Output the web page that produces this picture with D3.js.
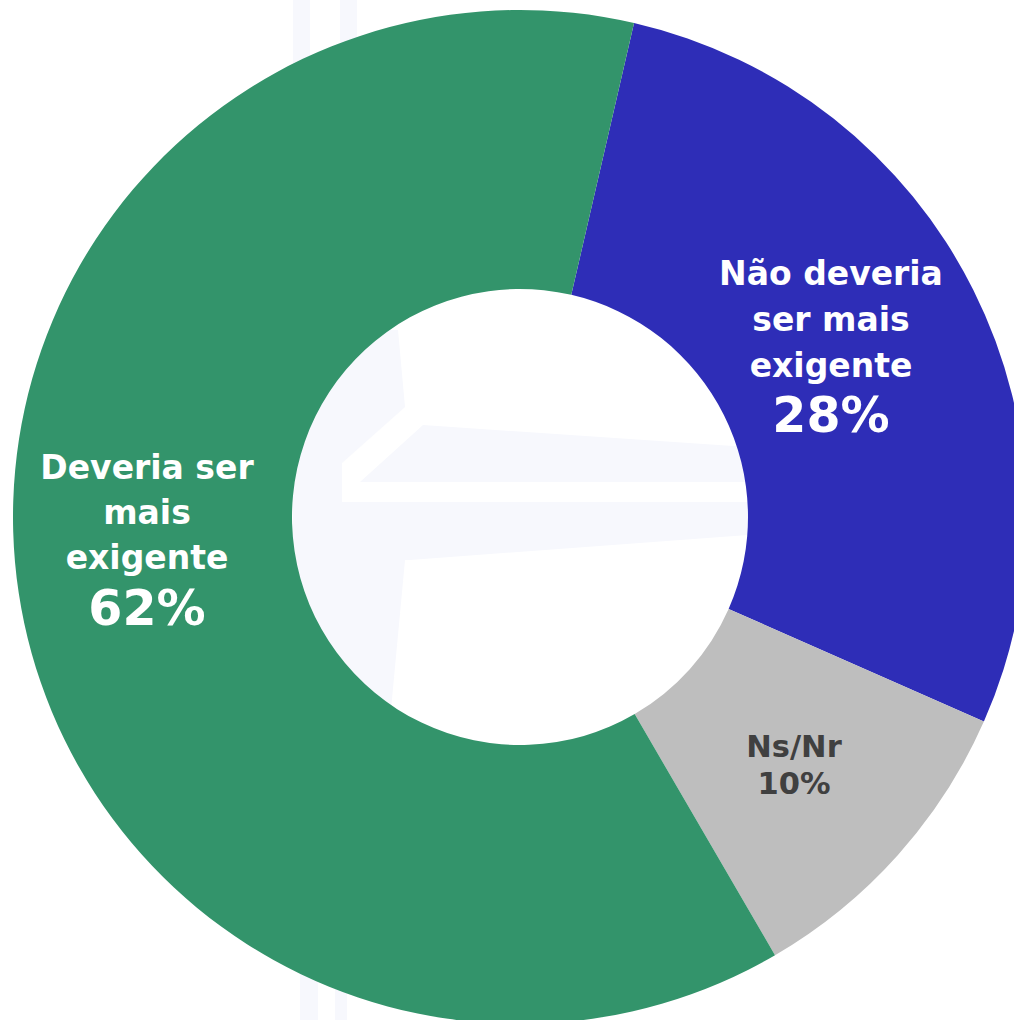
<!DOCTYPE html>
<html>
<head>
<meta charset="utf-8">
<script src="https://cdn.jsdelivr.net/npm/d3@7"></script>
<style>
  html, body { margin: 0; padding: 0; background: #fff; }
  svg { display: block; }
</style>
</head>
<body>
<svg id="chart"></svg>
<script>
// Data (percent)
const categories = ['Não deveria ser mais exigente', 'Ns/Nr', 'Deveria ser mais exigente'];
const values = [28, 10, 62];
const labelLines = [
  ['Não deveria', 'ser mais', 'exigente'],
  ['Ns/Nr'],
  ['Deveria ser', 'mais', 'exigente']
];
const pctLabels = ['28%', '10%', '62%'];

const COLORS = ['#2e2db7', '#bebebe', '#33946b'];
const TEXT_COLORS = ['#ffffff', '#404040', '#ffffff'];

const width = 1014, height = 1020;
const cx = 520, cy = 517;
const outerR = 507, innerR = 228;

const svg = d3.select('#chart')
  .attr('width', width)
  .attr('height', height);

// faint watermark behind the donut
const wm = svg.append('g').attr('fill', '#f7f8fd');
[
  [[293, 0], [310, 0], [310, 90], [293, 90]],
  [[340, 0], [357, 0], [357, 90], [340, 90]],
  [[300, 970], [318, 970], [318, 1020], [300, 1020]],
  [[335, 970], [347, 970], [347, 1020], [335, 1020]],
  [[293, 290], [342, 290], [342, 745], [293, 745]],
  [[342, 330], [398, 330], [405, 407], [342, 463]],
  [[423, 425], [748, 447], [748, 482], [360, 482]],
  [[342, 502], [748, 502], [748, 535], [410, 560], [342, 560]],
  [[342, 560], [405, 560], [390, 720], [342, 740]]
].forEach(pts => wm.append('polygon').attr('points', pts.map(p => p.join(',')).join(' ')));

const pie = d3.pie()
  .sort(null)
  .value(d => d)
  .startAngle(13 * Math.PI / 180)
  .endAngle(13 * Math.PI / 180 + 2 * Math.PI);

const arc = d3.arc().innerRadius(innerR).outerRadius(outerR);

const g = svg.append('g').attr('transform', `translate(${cx},${cy})`);

g.selectAll('path.slice')
  .data(pie(values))
  .enter()
  .append('path')
  .attr('class', 'slice')
  .attr('d', arc)
  .attr('fill', (d, i) => COLORS[i]);

// label placement (text block anchors)
const labelPos = [
  { x: 831, y: 285, size: 33, pctSize: 49, lh: 46, pctGap: 55 },
  { x: 794, y: 757, size: 30.5, pctSize: 30.5, lh: 37, pctGap: 37 },
  { x: 147, y: 479, size: 33, pctSize: 49, lh: 45, pctGap: 56 }
];

const labels = svg.append('g')
  .attr('font-family', 'Verdana, "DejaVu Sans", sans-serif')
  .attr('font-weight', 'bold')
  .attr('text-anchor', 'middle');

labelLines.forEach((lines, i) => {
  const p = labelPos[i];
  const t = labels.append('text').attr('fill', TEXT_COLORS[i]);
  lines.forEach((line, j) => {
    t.append('tspan')
      .attr('x', p.x)
      .attr('y', p.y + j * p.lh)
      .attr('font-size', p.size)
      .text(line);
  });
  t.append('tspan')
    .attr('x', p.x)
    .attr('y', p.y + (lines.length - 1) * p.lh + p.pctGap)
    .attr('font-size', p.pctSize)
    .text(pctLabels[i]);
});
</script>
</body>
</html>
